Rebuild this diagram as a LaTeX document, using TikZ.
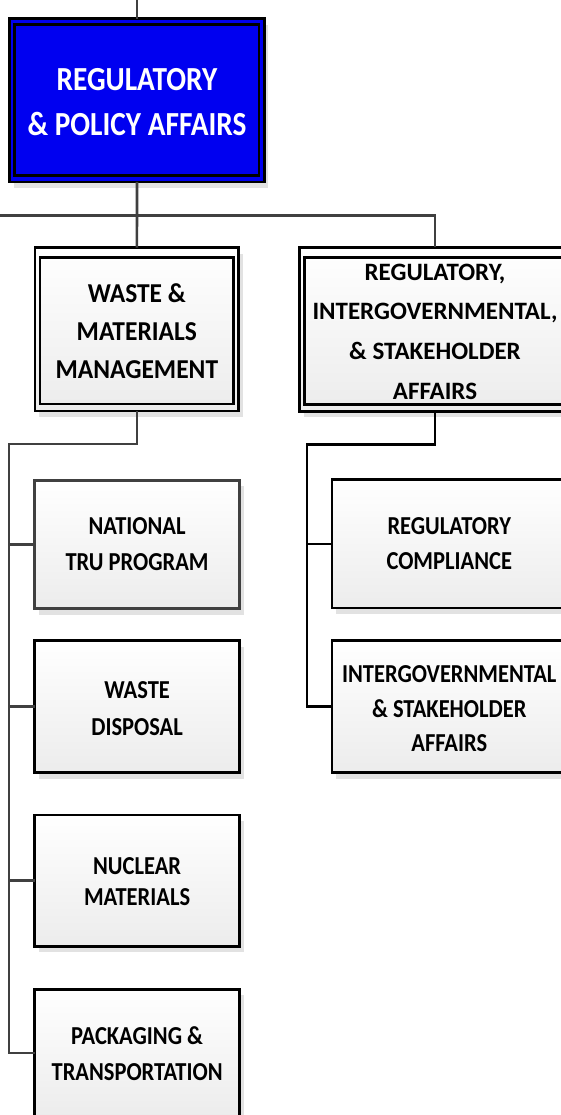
\documentclass[tikz,border=0pt]{standalone}
\usepackage{fontspec}
\setmainfont{Carlito}
\usepackage{graphicx}
\usetikzlibrary{shadows}
\definecolor{topblue}{RGB}{0,0,240}
\definecolor{lnGray}{RGB}{64,64,64}
\definecolor{boxBottom}{RGB}{236,236,236}
\definecolor{shadowGray}{RGB}{226,226,226}
% #1 size, #2 line skip, #3 vertical stretch, #4 downward shift (pt), #5 lines
\newcommand{\boxtxt}[5]{\raisebox{0pt}[\dimexpr\height+#4pt+#4pt\relax][\depth]{\scalebox{1}[#3]{\fontsize{#1}{#2}\selectfont\bfseries\begin{tabular}{@{}c@{}}#5\end{tabular}}}}
\begin{document}
\begin{tikzpicture}[x=1pt,y=-1pt,
  gline/.style={draw=lnGray,line width=2.6},
  bline/.style={draw=black,line width=2.5},
  shad/.style={drop shadow={shadow xshift=4pt,shadow yshift=-6pt,fill=shadowGray,opacity=1}},
  basebox/.style={rectangle,outer sep=0pt,inner sep=0pt,shad,text=black},
  topbox/.style={basebox,fill=topblue,draw=black,line width=2.6,text=white},
  dblbox/.style={basebox,top color=white,bottom color=boxBottom,draw=black,line width=2.7},
  unitbox/.style={basebox,top color=white,bottom color=boxBottom,draw=black,line width=2.7},
  innerline/.style={draw=black,line width=2.6}
]
\useasboundingbox (0,0) rectangle (561,1115);
\clip (0,0) rectangle (561,1115);

% ---- boxes ----
\node[topbox,minimum width=254.6,minimum height=163.3] (top) at (137,100.35)
  {\boxtxt{29.3}{39.1}{1.15}{3.5}{REGULATORY\\\& POLICY AFFAIRS}};
\draw[innerline] ([shift={(4.8,6)}]top.north west) rectangle ([shift={(-5.3,-6.7)}]top.south east);

\node[dblbox,minimum width=203.7,minimum height=163.3] (wm) at (136.85,329.35)
  {\boxtxt{25.5}{35.8}{1.07}{3.5}{WASTE \&\\MATERIALS\\MANAGEMENT}};
\draw[innerline] ([shift={(5,10)}]wm.north west) rectangle ([shift={(-5.4,-7)}]wm.south east);

\node[dblbox,minimum width=271,minimum height=163.3] (ris) at (435,329.35)
  {\boxtxt{25}{39.7}{1.0}{2.5}{REGULATORY,\\INTERGOVERNMENTAL,\\\& STAKEHOLDER\\AFFAIRS}};
\draw[innerline] ([shift={(5,10)}]ris.north west) rectangle ([shift={(-5,-7)}]ris.south east);

\node[unitbox,draw=lnGray,minimum width=204.8,minimum height=128.3] (ntru) at (137.1,544.35)
  {\boxtxt{22.5}{31.3}{1.15}{1}{NATIONAL\\TRU PROGRAM}};
\node[unitbox,minimum width=204.8,minimum height=131.7] (wd) at (137.1,706.65)
  {\boxtxt{22.5}{31.6}{1.15}{3}{WASTE\\DISPOSAL}};
\node[unitbox,minimum width=204.8,minimum height=131.3] (nuc) at (137.1,880.65)
  {\boxtxt{22.5}{27.6}{1.15}{3}{NUCLEAR\\MATERIALS}};
\node[unitbox,minimum width=204.8,minimum height=127.8] (pt) at (137.1,1053.1)
  {\boxtxt{22.5}{31.9}{1.15}{2}{PACKAGING \&\\TRANSPORTATION}};

\node[unitbox,minimum width=234.5,minimum height=128.3] (rc) at (449.25,543.85)
  {\boxtxt{22.5}{30.5}{1.15}{1.5}{REGULATORY\\COMPLIANCE}};
\node[unitbox,minimum width=234.5,minimum height=131.7] (isa) at (449.25,706.65)
  {\boxtxt{22.5}{29.8}{1.15}{3.5}{INTERGOVERNMENTAL\\\& STAKEHOLDER\\AFFAIRS}};

% ---- connectors ----
\coordinate (topin) at (137,0);
\coordinate (j1) at (137,215.3);
\coordinate (lft) at (0,215.3);
\coordinate (lj) at (8.8,444);
\coordinate (rj) at (306.8,444.3);

\draw[gline] (topin) -- (top.north);
\draw[gline] (top.south) -- (j1) -- (wm.north);
\draw[gline] (lft) -| (ris.north);

\draw[gline] (wm.south) |- (lj) |- (pt.west);
\draw[gline] (ntru.west) -- (ntru.west -| lj);
\draw[gline] (wd.west) -- (wd.west -| lj);
\draw[gline] (nuc.west) -- (nuc.west -| lj);

\draw[bline] (ris.south) |- (rj) |- (isa.west);
\draw[bline] (rc.west) -- (rc.west -| rj);
\end{tikzpicture}
\end{document}
